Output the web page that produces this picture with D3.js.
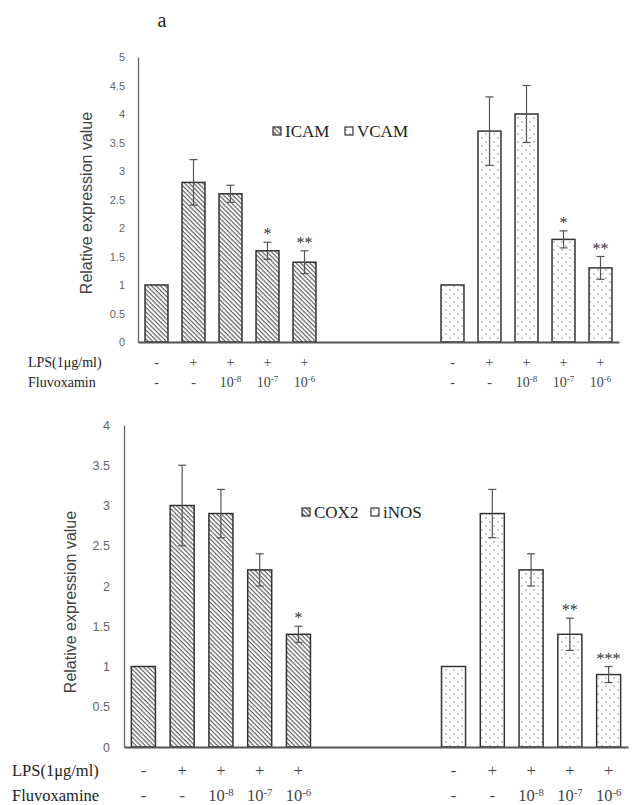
<!DOCTYPE html>
<html>
<head>
<meta charset="utf-8">
<script src="https://cdn.jsdelivr.net/npm/d3@7"></script>
<style>
  body { margin: 0; background: #fff; }
  svg { display: block; }
  .serif { font-family: "Liberation Serif", "DejaVu Serif", serif; }
  .sans { font-family: "Liberation Sans", "DejaVu Sans", sans-serif; }
</style>
</head>
<body>
<script>
// Data
const lpsRow = ['-', '+', '+', '+', '+']
const fluvoxRow = [null, null, -8, -7, -6]   // exponent of 10, null means '-'

const yTicksTop = [0, 0.5, 1, 1.5, 2, 2.5, 3, 3.5, 4, 4.5, 5]
const yTicksBottom = [0, 0.5, 1, 1.5, 2, 2.5, 3, 3.5, 4]

const icam = [1, 2.8, 2.6, 1.6, 1.4]
const icamErr = [0, 0.4, 0.15, 0.15, 0.2]
const icamSig = ['', '', '', '*', '**']
const vcam = [1, 3.7, 4.0, 1.8, 1.3]
const vcamErr = [0, 0.6, 0.5, 0.15, 0.2]
const vcamSig = ['', '', '', '*', '**']

const cox2 = [1, 3.0, 2.9, 2.2, 1.4]
const cox2Err = [0, 0.5, 0.3, 0.2, 0.1]
const cox2Sig = ['', '', '', '', '*']
const inos = [1, 2.9, 2.2, 1.4, 0.9]
const inosErr = [0, 0.3, 0.2, 0.2, 0.1]
const inosSig = ['', '', '', '**', '***']

const svg = d3.select('body').append('svg')
  .attr('width', 632)
  .attr('height', 805)

// Patterns
const defs = svg.append('defs')
const hatch = defs.append('pattern')
  .attr('id', 'hatch')
  .attr('patternUnits', 'userSpaceOnUse')
  .attr('width', 3.2)
  .attr('height', 6)
  .attr('patternTransform', 'rotate(-45)')
hatch.append('rect').attr('width', 3.2).attr('height', 6).attr('fill', '#fff')
hatch.append('line')
  .attr('x1', 1).attr('x2', 1).attr('y1', 0).attr('y2', 6)
  .attr('stroke', '#555').attr('stroke-width', 1.1)

const dots = defs.append('pattern')
  .attr('id', 'dots')
  .attr('patternUnits', 'userSpaceOnUse')
  .attr('width', 8)
  .attr('height', 8)
dots.append('rect').attr('width', 8).attr('height', 8).attr('fill', '#fff')
dots.selectAll('circle')
  .data([[2, 2], [6, 6]])
  .join('circle')
  .attr('cx', d => d[0]).attr('cy', d => d[1])
  .attr('r', 0.7).attr('fill', '#666')

// Title
svg.append('text')
  .attr('class', 'serif')
  .attr('x', 162).attr('y', 27)
  .attr('text-anchor', 'middle')
  .style('font-size', '20px')
  .attr('fill', '#222')
  .text('a')

function drawPanel({
  x0, x1, yTop, yBottom, yMax, yTicks, tickFont, tickPad,
  series, legend, yLabel, rows
}) {
  const slots = d3.range(13)
  const x = d3.scaleBand().domain(slots).range([x0, x1])
    .paddingInner(0.38).paddingOuter(0.19)
  const y = d3.scaleLinear().domain([0, yMax]).range([yBottom, yTop])

  // Y axis
  const yAxis = svg.append('g')
    .attr('transform', `translate(${x0},0)`)
    .call(d3.axisLeft(y).tickValues(yTicks).tickFormat(d3.format('~g'))
      .tickSize(0).tickSizeOuter(0).tickPadding(tickPad))
  yAxis.select('.domain').attr('stroke', '#666').attr('stroke-width', 1.3)
  yAxis.attr('font-family', null)
  yAxis.selectAll('text')
    .attr('class', 'sans')
    .style('font-size', tickFont)
    .attr('fill', '#666')

  // Bars per series
  series.forEach(s => {
    const data = s.values.map((v, i) => ({
      slot: s.slots[i], value: v, err: s.err[i], sig: s.sig[i]
    }))
    const g = svg.append('g')
    g.selectAll('rect')
      .data(data)
      .join('rect')
      .attr('x', d => x(d.slot))
      .attr('y', d => y(d.value))
      .attr('width', x.bandwidth())
      .attr('height', d => y(0) - y(d.value))
      .attr('fill', `url(#${s.pattern})`)
      .attr('stroke', '#333')
      .attr('stroke-width', 1.5)

    const eb = g.selectAll('.err')
      .data(data.filter(d => d.err > 0))
      .join('g').attr('class', 'err')
      .attr('stroke', '#555').attr('stroke-width', 1.2)
    const cx = d => x(d.slot) + x.bandwidth() / 2
    eb.append('line')
      .attr('x1', cx).attr('x2', cx)
      .attr('y1', d => y(d.value + d.err)).attr('y2', d => y(d.value - d.err))
    eb.append('line')
      .attr('x1', d => cx(d) - 4).attr('x2', d => cx(d) + 4)
      .attr('y1', d => y(d.value + d.err)).attr('y2', d => y(d.value + d.err))
    eb.append('line')
      .attr('x1', d => cx(d) - 4).attr('x2', d => cx(d) + 4)
      .attr('y1', d => y(d.value - d.err)).attr('y2', d => y(d.value - d.err))

    g.selectAll('.sig')
      .data(data.filter(d => d.sig))
      .join('text').attr('class', 'sig serif')
      .attr('x', cx)
      .attr('y', d => y(d.value + d.err) - 3)
      .attr('text-anchor', 'middle')
      .style('font-size', '16px')
      .attr('fill', '#333')
      .text(d => d.sig)
  })

  // X axis line
  svg.append('g')
    .attr('transform', `translate(0,${yBottom})`)
    .call(d3.axisBottom(x).tickValues([]).tickSizeOuter(0))
    .select('.domain').attr('stroke', '#555').attr('stroke-width', 1.8)

  // Legend
  const lg = svg.append('g')
  legend.items.forEach(it => {
    lg.append('rect')
      .attr('x', it.x).attr('y', legend.y - 10)
      .attr('width', 8).attr('height', 8)
      .attr('fill', `url(#${it.pattern})`)
      .attr('stroke', '#333').attr('stroke-width', 1.2)
    lg.append('text')
      .attr('class', 'serif')
      .attr('x', it.x + 12).attr('y', legend.y)
      .style('font-size', legend.font)
      .attr('fill', '#222')
      .text(it.label)
  })

  // Y label
  svg.append('text')
    .attr('class', 'sans')
    .attr('transform', `translate(${yLabel.x},${yLabel.y}) rotate(-90)`)
    .attr('text-anchor', 'middle')
    .style('font-size', yLabel.font)
    .attr('fill', '#444')
    .text('Relative expression value')

  // Condition rows
  const allSlots = [...series[0].slots, ...series[1].slots]
  const rg = svg.append('g')
  const rowText = (xx, yy) => rg.append('text')
    .attr('class', 'serif')
    .attr('x', xx).attr('y', yy)
    .style('font-size', rows.font)
    .attr('fill', '#222')
  rowText(rows.x, rows.y1).text('LPS(1μg/ml)')
  rowText(rows.x, rows.y2).text(rows.drug)
  allSlots.forEach((slot, i) => {
    const cx = x(slot) + x.bandwidth() / 2
    rowText(cx, rows.y1)
      .attr('text-anchor', 'middle')
      .attr('fill', '#444')
      .text(lpsRow[i % 5])
    const e = fluvoxRow[i % 5]
    const t = rowText(cx, rows.y2)
      .attr('text-anchor', 'middle')
      .attr('fill', '#444')
    if (e === null) {
      t.text('-')
    } else {
      t.append('tspan').text('10')
      t.append('tspan')
        .attr('dy', -5)
        .style('font-size', '0.65em')
        .text(e)
    }
  })
}

// Panel 1: ICAM / VCAM
drawPanel({
  x0: 138, x1: 619, yTop: 57, yBottom: 342, yMax: 5,
  yTicks: yTicksTop, tickFont: '11px', tickPad: 13,
  series: [
    { values: icam, err: icamErr, sig: icamSig, slots: [0, 1, 2, 3, 4], pattern: 'hatch' },
    { values: vcam, err: vcamErr, sig: vcamSig, slots: [8, 9, 10, 11, 12], pattern: 'dots' }
  ],
  legend: {
    y: 137, font: '17px',
    items: [
      { x: 273, label: 'ICAM', pattern: 'hatch' },
      { x: 345, label: 'VCAM', pattern: 'dots' }
    ]
  },
  yLabel: { x: 92, y: 203, font: '16px' },
  rows: { x: 28, y1: 367, y2: 387, font: '14px', drug: 'Fluvoxamin' }
})

// Panel 2: COX2 / iNOS
drawPanel({
  x0: 124, x1: 628, yTop: 425, yBottom: 747, yMax: 4,
  yTicks: yTicksBottom, tickFont: '12.5px', tickPad: 14,
  series: [
    { values: cox2, err: cox2Err, sig: cox2Sig, slots: [0, 1, 2, 3, 4], pattern: 'hatch' },
    { values: inos, err: inosErr, sig: inosSig, slots: [8, 9, 10, 11, 12], pattern: 'dots' }
  ],
  legend: {
    y: 518, font: '17px',
    items: [
      { x: 302, label: 'COX2', pattern: 'hatch' },
      { x: 371, label: 'iNOS', pattern: 'dots' }
    ]
  },
  yLabel: { x: 76, y: 602, font: '16px' },
  rows: { x: 12, y1: 776, y2: 801, font: '16.5px', drug: 'Fluvoxamine' }
})
</script>
</body>
</html>
